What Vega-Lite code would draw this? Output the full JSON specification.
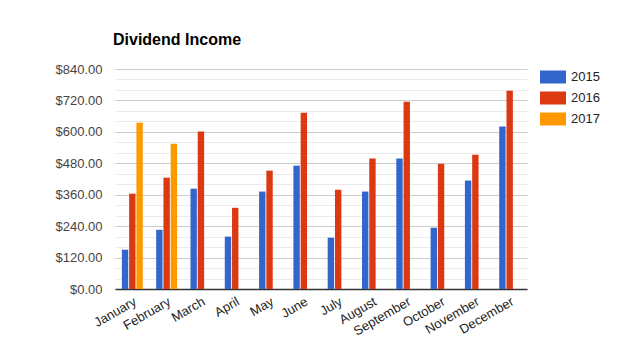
{
  "$schema": "https://vega.github.io/schema/vega-lite/v6.json",
  "width": 412,
  "height": 220,
  "autosize": {"type": "none"},
  "padding": {"left": 115, "top": 69, "right": 114, "bottom": 69},
  "background": "white",
  "title": {
    "text": "Dividend Income",
    "anchor": "start",
    "frame": "group",
    "font": "Liberation Sans",
    "fontSize": 16,
    "fontWeight": "bold",
    "color": "#000",
    "offset": 15,
    "dx": -2
  },
  "config": {
    "view": {"stroke": null},
    "font": "Liberation Sans"
  },
  "data": {
    "values": [
      {"month": "January", "year": "2015", "value": 150},
      {"month": "January", "year": "2016", "value": 364},
      {"month": "January", "year": "2017", "value": 635},
      {"month": "February", "year": "2015", "value": 226},
      {"month": "February", "year": "2016", "value": 425},
      {"month": "February", "year": "2017", "value": 555},
      {"month": "March", "year": "2015", "value": 383},
      {"month": "March", "year": "2016", "value": 601},
      {"month": "April", "year": "2015", "value": 200},
      {"month": "April", "year": "2016", "value": 310},
      {"month": "May", "year": "2015", "value": 372},
      {"month": "May", "year": "2016", "value": 452},
      {"month": "June", "year": "2015", "value": 471},
      {"month": "June", "year": "2016", "value": 673},
      {"month": "July", "year": "2015", "value": 196},
      {"month": "July", "year": "2016", "value": 379},
      {"month": "August", "year": "2015", "value": 372},
      {"month": "August", "year": "2016", "value": 498},
      {"month": "September", "year": "2015", "value": 498},
      {"month": "September", "year": "2016", "value": 715},
      {"month": "October", "year": "2015", "value": 234},
      {"month": "October", "year": "2016", "value": 478},
      {"month": "November", "year": "2015", "value": 414},
      {"month": "November", "year": "2016", "value": 513},
      {"month": "December", "year": "2015", "value": 620},
      {"month": "December", "year": "2016", "value": 757}
    ]
  },
  "mark": {"type": "bar"},
  "encoding": {
    "x": {
      "field": "month",
      "type": "nominal",
      "sort": ["January","February","March","April","May","June","July","August","September","October","November","December"],
      "scale": {"paddingInner": 0.39, "paddingOuter": 0.2},
      "axis": {
        "title": null,
        "labelAngle": -30,
        "labelAlign": "right",
        "labelBaseline": "top",
        "labelFontSize": 13,
        "labelColor": "#222",
        "labelPadding": 6,
        "ticks": false,
        "domainColor": "#333",
        "domainWidth": 1.5,
        "grid": false
      }
    },
    "xOffset": {
      "field": "year",
      "type": "nominal",
      "scale": {"paddingInner": 0.12}
    },
    "y": {
      "field": "value",
      "type": "quantitative",
      "scale": {"domain": [0, 840], "nice": false},
      "axis": {
        "title": null,
        "values": [0,40,80,120,160,200,240,280,320,360,400,440,480,520,560,600,640,680,720,760,800,840],
        "labelExpr": "datum.value % 120 === 0 ? '$' + format(datum.value, ',.2f') : ''",
        "labelFontSize": 13,
        "labelColor": "#444",
        "labelPadding": 13,
        "ticks": false,
        "domain": false,
        "gridColor": {"condition": {"test": "datum.value % 120 === 0", "value": "#cccccc"}, "value": "#ebebeb"},
        "gridWidth": 1
      }
    },
    "color": {
      "field": "year",
      "type": "nominal",
      "scale": {"domain": ["2015","2016","2017"], "range": ["#3366cc", "#dc3912", "#ff9900"]},
      "legend": {
        "title": null,
        "orient": "none",
        "legendX": 425,
        "legendY": -5,
        "symbolType": "M-1,-0.5H1V0.5H-1Z",
        "symbolSize": 676,
        "symbolStrokeWidth": 0,
        "symbolOpacity": 1,
        "labelFontSize": 13,
        "labelColor": "#222",
        "labelOffset": 5,
        "rowPadding": 1
      }
    }
  }
}
